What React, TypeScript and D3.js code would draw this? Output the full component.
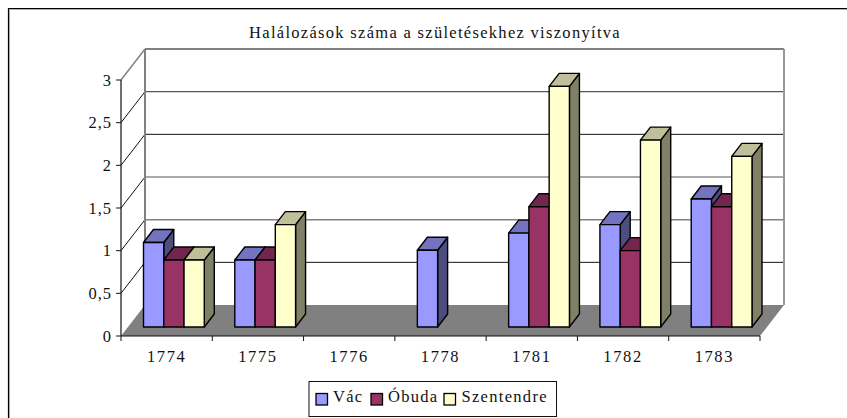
import React from "react";
import * as d3 from "d3";

const categories = ["1774", "1775", "1776", "1778", "1781", "1782", "1783"];
const seriesNames = ["Vác", "Óbuda", "Szentendre"];
const vac = [0.99, 0.785, null, 0.9, 1.1, 1.2, 1.5];
const obuda = [0.785, 0.785, null, null, 1.41, 0.895, 1.41];
const szentendre = [0.785, 1.2, null, null, 2.82, 2.19, 2.0];
const yTicks = [0, 0.5, 1, 1.5, 2, 2.5, 3];
const yLabels = ["0", "0,5", "1", "1,5", "2", "2,5", "3"];
const title = "Halálozások száma a születésekhez viszonyítva";

const front = ["#9999ff", "#993366", "#ffffcc"];
const topFace = ["#7373bf", "#73264d", "#bfbf99"];
const sideFace = ["#4d4d80", "#4d1933", "#808066"];

const W = 847, H = 418;
const DX = 24, DY = -31;
const x = d3.scaleBand<string>().domain(categories).range([121, 760]);
const y = d3.scaleLinear().domain([0, 3]).range([336, 80]);
const gridStroke: [string, number][] = [
  ["#808080", 2], ["#111", 1], ["#808080", 1.5], ["#555", 1.2], ["#111", 1], ["#555", 1.2], ["#808080", 2],
];
const serif = "'Liberation Serif', serif";
const poly = (pts: [number, number][]) => pts.map((p) => p.join(",")).join(" ");

export default function App() {
  const series = [vac, obuda, szentendre];
  const bw = (x.bandwidth() - 30.5) / 3;
  const bars: React.ReactNode[] = [];
  categories.forEach((c, ci) => {
    series.forEach((vals, si) => {
      const v = vals[ci];
      if (v == null) return;
      const l = x(c)! + 22.5 + si * bw;
      const r = l + bw;
      const b = y(0) - 9;
      const t = b - (y(0) - y(v));
      const dx = 10, dy = -13;
      const stroke = { stroke: "#000", strokeWidth: 1.4, strokeLinejoin: "round" as const };
      bars.push(
        <g key={c + si}>
          <polygon points={poly([[r, b], [r + dx, b + dy], [r + dx, t + dy], [r, t]])} fill={sideFace[si]} {...stroke} />
          <polygon points={poly([[l, t], [l + dx, t + dy], [r + dx, t + dy], [r, t]])} fill={topFace[si]} {...stroke} />
          <rect x={l} y={t} width={bw} height={b - t} fill={front[si]} {...stroke} />
        </g>
      );
    });
  });
  const x0 = x.range()[0], x1 = x.range()[1];
  const legendItems = [
    { lx: 316, tx: 333 },
    { lx: 371, tx: 388 },
    { lx: 444, tx: 461.5 },
  ];
  return (
    <svg width={W} height={H} style={{ position: "absolute", left: 0, top: 0, background: "#fff" }} fontFamily={serif}>
      <path d={`M8.5,${H} V8.5 H${W}`} fill="none" stroke="#000" strokeWidth={1.2} />
      <path d={`M9.5,${H} V9.5 H${W}`} fill="none" stroke="#999" strokeWidth={0.8} />
      <text x={435} y={37.5} textAnchor="middle" fontSize={16.5} letterSpacing={1.3} fill="#111">{title}</text>

      <polygon points={poly([[x0, y(0)], [x0 + DX, y(0) + DY], [x1 + DX, y(0) + DY], [x1, y(0)]])} fill="#808080" />
      {yTicks.map((t, i) => (
        <g key={t}>
          {i > 0 && <line x1={x0 + DX} x2={x1 + DX} y1={y(t) + DY} y2={y(t) + DY} stroke={gridStroke[i][0]} strokeWidth={gridStroke[i][1]} />}
          {i > 0 && <line x1={x0} x2={x0 + DX} y1={y(t)} y2={y(t) + DY} stroke={i === 6 ? "#808080" : "#111"} strokeWidth={i === 6 ? 1.5 : 1} />}
          <line x1={x0 - 5} x2={x0} y1={y(t)} y2={y(t)} stroke="#111" />
          <text x={x0 - 9} y={y(t) + 5.5} textAnchor="end" fontSize={16.5} letterSpacing={1} fill="#111">{yLabels[i]}</text>
        </g>
      ))}
      <line x1={x0 + DX} x2={x0 + DX} y1={y(3) + DY} y2={y(0) + DY} stroke="#808080" strokeWidth={2} />
      <line x1={x1 + DX} x2={x1 + DX} y1={y(3) + DY} y2={y(0) + DY} stroke="#999" strokeWidth={2} />
      <line x1={x0} x2={x0} y1={y(3)} y2={y(0)} stroke="#111" strokeWidth={1.2} />
      <line x1={x0} x2={x1} y1={y(0)} y2={y(0)} stroke="#111" strokeWidth={1.2} />
      {[...categories.map((c) => x(c)!), x1].map((t) => (
        <line key={t} x1={t} x2={t} y1={y(0)} y2={y(0) + 5} stroke="#111" />
      ))}
      {categories.map((c) => (
        <text key={c} x={x(c)! + x.bandwidth() / 2} y={362} textAnchor="middle" fontSize={16.5} letterSpacing={1.6} fill="#111">{c}</text>
      ))}
      {bars}

      <rect x={309} y={381.5} width={247.5} height={35} fill="#fff" stroke="#111" strokeWidth={1} />
      {seriesNames.map((n, i) => (
        <g key={n}>
          <rect x={legendItems[i].lx} y={393.5} width={11.5} height={11.5} fill={front[i]} stroke="#000" strokeWidth={1.3} />
          <text x={legendItems[i].tx} y={402} fontSize={16.5} letterSpacing={1.3} fill="#111">{n}</text>
        </g>
      ))}
    </svg>
  );
}
